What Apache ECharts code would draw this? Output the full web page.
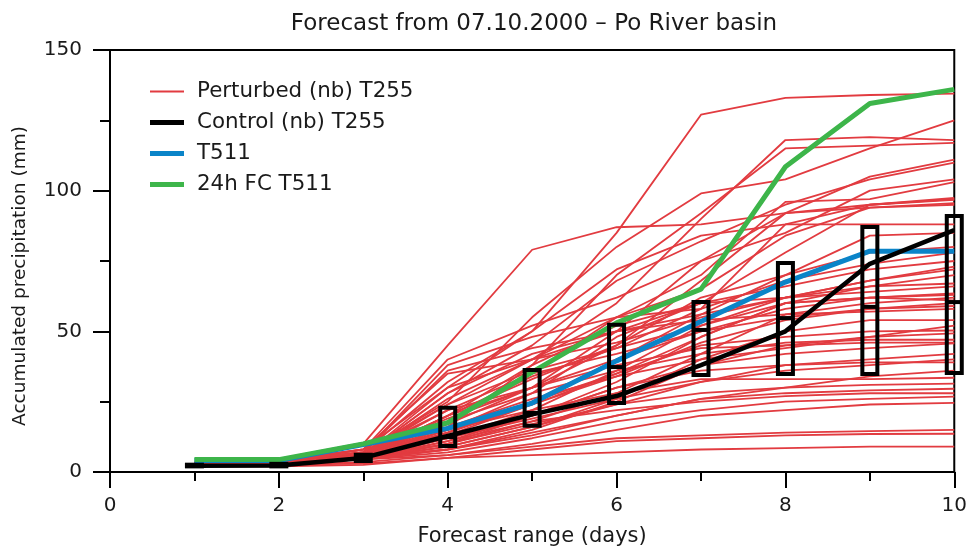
<!DOCTYPE html>
<html>
<head>
<meta charset="utf-8">
<script src="https://cdn.jsdelivr.net/npm/echarts@6/dist/echarts.min.js"></script>
<style>
html,body{margin:0;padding:0;background:#fff;}
#chart{width:970px;height:552px;}
</style>
</head>
<body>
<div id="chart"></div>
<script>
// ---- data ----
const DAYS = [1, 2, 3, 4, 5, 6, 7, 8, 9, 10];
const X_TICKS = [0, 2, 4, 6, 8, 10];
const Y_TICKS = [0, 50, 100, 150];

const CONTROL = [2.2, 2.3, 5.0, 12.8, 20.5, 27, 38, 50, 74, 86];
const T511 = [4.1, 4.1, 9.8, 15.5, 24.5, 39.5, 53.5, 67.5, 78.5, 78.5];
const FC24_T511 = [4.4, 4.4, 10, 17.5, 35.5, 53, 65, 108.5, 131, 136];

// box statistics per day: lower, median, upper
const BOX_LOW = [2.0, 2.0, 3.9, 9.2, 16.4, 24.5, 34.5, 34.8, 34.8, 35.2];
const BOX_MED = [2.3, 2.4, 5.0, 12.4, 21.0, 37.3, 50.5, 54.7, 58.7, 60.4];
const BOX_HIGH = [2.6, 2.9, 6.1, 22.8, 36.3, 52.3, 60.4, 74.3, 87.1, 91.0];

// perturbed members (day 1..10)
const P01 = [3.0, 3.5, 8, 30, 50, 85, 127, 133, 134, 134.5];
const P02 = [3.5, 4.5, 10, 45, 79, 87, 88, 92, 95, 97];
const P03 = [2.5, 3.5, 7, 25, 55, 80, 99, 104, 115, 125];
const P04 = [3.0, 4.0, 8, 35, 40, 60, 90, 118, 119, 118];
const P05 = [2.5, 3.0, 6, 20, 38, 70, 92, 115, 116, 117];
const P06 = [3.0, 4.0, 7, 22, 30, 50, 75, 92, 105, 111];
const P07 = [2.5, 3.5, 6, 28, 45, 68, 82, 95, 104, 110];
const P08 = [3.0, 4.0, 8, 40, 52, 62, 75, 85, 100, 104];
const P09 = [2.5, 3.0, 6, 18, 35, 55, 70, 96, 97, 103];
const P10 = [3.0, 3.5, 7, 32, 50, 72, 84, 88, 95, 97.4];
const P11 = [2.5, 3.5, 6, 15, 28, 48, 60, 78, 95, 96.7];
const P12 = [3.0, 4.0, 7, 24, 40, 55, 65, 84, 94, 95.6];
const P13 = [2.5, 3.0, 6, 20, 33, 45, 68, 92, 94, 95];
const P14 = [3.0, 3.5, 7, 38, 48, 55, 58, 88, 88, 88];
const P15 = [2.5, 3.0, 5, 14, 25, 40, 56, 70, 84, 85];
const P16 = [3.0, 4.0, 6, 19, 30, 45, 62, 70, 78, 80];
const P17 = [2.5, 3.0, 6, 26, 40, 50, 60, 66, 72, 75];
const P18 = [2.5, 3.0, 5, 12, 22, 36, 52, 62, 68, 72];
const P19 = [3.0, 3.5, 6, 16, 38, 52, 60, 62, 66, 70];
const P20 = [2.5, 3.0, 5, 11, 20, 32, 48, 60, 66, 67];
const P21 = [2.5, 3.0, 6, 30, 40, 46, 55, 62, 64, 66];
const P22 = [3.0, 3.5, 6, 17, 30, 40, 50, 58, 62, 63.5];
const P23 = [2.5, 3.0, 5, 13, 24, 35, 48, 60, 62, 63];
const P24 = [2.5, 3.0, 5, 10, 18, 28, 42, 56, 60, 62];
const P25 = [3.0, 3.5, 6, 22, 35, 42, 50, 55, 58, 60];
const P26 = [2.5, 3.0, 5, 9, 16, 26, 40, 50, 54, 54];
const P27 = [2.5, 3.0, 5, 14, 25, 35, 45, 48, 50, 50.3];
const P28 = [2.5, 3.0, 5, 8, 15, 25, 38, 45, 48, 49.3];
const P29 = [3.0, 3.5, 6, 20, 30, 38, 44, 45, 46, 46];
const P30 = [2.5, 3.0, 5, 12, 20, 30, 38, 42, 44, 45.7];
const P31 = [2.5, 3.0, 4.5, 9, 16, 24, 32, 38, 40, 42];
const P32 = [2.5, 3.0, 5, 15, 22, 28, 33, 33, 33, 33.5];
const P33 = [2.5, 3.0, 4.5, 10, 17, 24, 28, 30, 31, 31.4];
const P34 = [2.5, 3.0, 4.5, 8, 13, 20, 26, 28, 29, 29.6];
const P35 = [2.5, 3.0, 4.5, 11, 18, 22, 25, 27, 28, 28];
const P36 = [2.5, 3.0, 4.5, 7, 12, 18, 22, 25, 26, 26.8];
const P37 = [2.5, 3.0, 4.5, 6, 10, 15, 20, 22, 24, 24.6];
const P38 = [2.0, 2.5, 3.5, 6, 9, 12, 13, 14, 14.5, 15];
const P39 = [2.0, 2.5, 3.0, 5, 8, 11, 12, 13, 13.5, 13.6];
const P40 = [2.0, 2.0, 2.5, 5, 6, 7, 8, 8.5, 9, 9];
const P41 = [3.0, 3.5, 6, 24, 36, 44, 52, 60, 62, 61];
const P42 = [2.5, 3.0, 5, 16, 26, 34, 40, 44, 48, 52];
const P43 = [3.0, 3.5, 6, 28, 42, 50, 54, 56, 57, 58];
const P44 = [2.5, 3.0, 5, 12, 19, 26, 32, 36, 38, 40];
const P45 = [2.5, 3.0, 5, 18, 28, 36, 42, 46, 47, 47];
const P46 = [3.0, 4.0, 7, 36, 44, 50, 56, 62, 68, 73];
const P47 = [2.5, 3.0, 5, 10, 20, 30, 36, 38, 39, 39];
const P48 = [2.5, 3.0, 5, 20, 34, 44, 58, 68, 74, 78];
const P49 = [2.5, 3.0, 4.5, 8, 14, 20, 26, 30, 34, 36];
const P50 = [3.0, 3.5, 6, 14, 24, 34, 46, 54, 58, 59];

const PERTURBED = [P01,P02,P03,P04,P05,P06,P07,P08,P09,P10,P11,P12,P13,P14,P15,P16,P17,P18,P19,P20,
  P21,P22,P23,P24,P25,P26,P27,P28,P29,P30,P31,P32,P33,P34,P35,P36,P37,P38,P39,P40,
  P41,P42,P43,P44,P45,P46,P47,P48,P49,P50];

const NAMES = ['Perturbed (nb) T255', 'Control (nb) T255', 'T511', '24h FC T511'];
const TITLE = 'Forecast from 07.10.2000 \u2013 Po River basin';
const X_NAME = 'Forecast range (days)';
const Y_NAME = 'Accumulated precipitation (mm)';

// ---- styles ----
const RED = '#e23b40', BLACK = '#000000', BLUE = '#0a84c8', GREEN = '#3db54a';
const FONT = 'DejaVu Sans';
const THIN_ICON = 'path://M0,0H34V2H0Z';
const THICK_ICON = 'path://M0,0H34V5H0Z';

function pairs(arr) { return DAYS.map((d, i) => [d, arr[i]]); }

const series = [];
PERTURBED.forEach(m => {
  series.push({
    name: NAMES[0], type: 'line', data: pairs(m), symbol: 'none', silent: true, z: 2,
    lineStyle: { color: RED, width: 1.8 }, itemStyle: { color: RED }
  });
});
series.push({ name: NAMES[2], type: 'line', data: pairs(T511), symbol: 'none', z: 3,
  lineStyle: { color: BLUE, width: 5 }, itemStyle: { color: BLUE } });
series.push({ name: NAMES[3], type: 'line', data: pairs(FC24_T511), symbol: 'none', z: 4,
  lineStyle: { color: GREEN, width: 5 }, itemStyle: { color: GREEN } });
series.push({ name: NAMES[1], type: 'line', data: pairs(CONTROL), symbol: 'none', z: 5,
  lineStyle: { color: BLACK, width: 4.5 }, itemStyle: { color: BLACK } });
series.push({
  name: 'boxes', type: 'custom', z: 6, clip: false, silent: true,
  data: DAYS.map((d, i) => [d, BOX_LOW[i], BOX_MED[i], BOX_HIGH[i]]),
  encode: { x: 0, y: [1, 2, 3] },
  renderItem: function (params, api) {
    const x = api.value(0);
    const top = api.coord([x, api.value(3)]);
    const bot = api.coord([x, api.value(1)]);
    const med = api.coord([x, api.value(2)]);
    const hw = 7.5;
    return {
      type: 'group',
      children: [
        { type: 'rect', shape: { x: top[0] - hw, y: top[1], width: 2 * hw, height: bot[1] - top[1] },
          style: { fill: 'none', stroke: BLACK, lineWidth: 4 } },
        { type: 'line', shape: { x1: top[0] - hw, y1: med[1], x2: top[0] + hw, y2: med[1] },
          style: { stroke: BLACK, lineWidth: 4 } }
      ]
    };
  }
});

const chart = echarts.init(document.getElementById('chart'), null, { renderer: 'canvas' });
chart.setOption({
  animation: false,
  backgroundColor: '#ffffff',
  textStyle: { fontFamily: FONT },
  title: {
    text: TITLE, left: 529, top: 8, textAlign: 'center',
    textStyle: { fontFamily: FONT, fontSize: 23, fontWeight: 'normal', color: '#1a1a1a' }
  },
  legend: {
    orient: 'vertical', left: 145, top: 76, itemWidth: 34, itemHeight: 14, itemGap: 10,
    textStyle: { fontFamily: FONT, fontSize: 21.4, color: '#1a1a1a', padding: [0, 0, 0, 8] },
    data: [
      { name: NAMES[0], icon: THIN_ICON, itemStyle: { color: RED } },
      { name: NAMES[1], icon: THICK_ICON, itemStyle: { color: BLACK } },
      { name: NAMES[2], icon: THICK_ICON, itemStyle: { color: BLUE } },
      { name: NAMES[3], icon: THICK_ICON, itemStyle: { color: GREEN } }
    ]
  },
  grid: { left: 110, right: 12, top: 50, bottom: 80, show: true, borderColor: BLACK, borderWidth: 2 },
  xAxis: {
    type: 'value', min: X_TICKS[0], max: X_TICKS[X_TICKS.length - 1], interval: X_TICKS[1] - X_TICKS[0],
    name: X_NAME, nameLocation: 'middle', nameGap: 54,
    nameTextStyle: { fontFamily: FONT, fontSize: 21, color: '#1a1a1a' },
    axisLine: { show: true, lineStyle: { color: BLACK, width: 2 } },
    axisTick: { show: true, length: 16, lineStyle: { color: BLACK, width: 2 } },
    minorTick: { show: true, splitNumber: 2, length: 9, lineStyle: { color: BLACK, width: 2 } },
    axisLabel: { margin: 24, fontFamily: FONT, fontSize: 20, color: '#1a1a1a' },
    splitLine: { show: false }
  },
  yAxis: {
    type: 'value', min: Y_TICKS[0], max: Y_TICKS[Y_TICKS.length - 1], interval: Y_TICKS[1] - Y_TICKS[0],
    name: Y_NAME, nameLocation: 'middle', nameGap: 80,
    nameTextStyle: { fontFamily: FONT, fontSize: 18.5, color: '#1a1a1a', padding: [0, 30, 0, 0] },
    axisLine: { show: true, lineStyle: { color: BLACK, width: 2 } },
    axisTick: { show: true, length: 17, lineStyle: { color: BLACK, width: 2 } },
    minorTick: { show: true, splitNumber: 2, length: 10, lineStyle: { color: BLACK, width: 2 } },
    axisLabel: { margin: 28, fontFamily: FONT, fontSize: 20, color: '#1a1a1a' },
    splitLine: { show: false }
  },
  series: series
});
</script>
</body>
</html>
